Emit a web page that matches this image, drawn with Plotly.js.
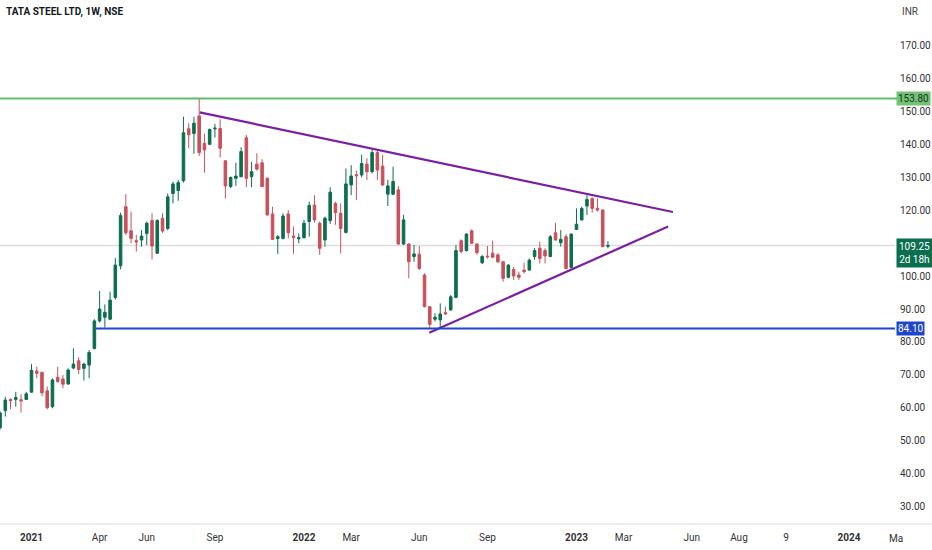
<!DOCTYPE html>
<html>
<head>
<meta charset="utf-8">
<script src="https://cdn.plot.ly/plotly-3.0.1.min.js"></script>
<style>
html,body{margin:0;padding:0;background:#fff;}
#chart{width:932px;height:550px;}
</style>
</head>
<body>
<div id="chart"></div>
<script>
// Weekly candles, week index 0 = first week of Jan 2021
const firstWeek = -6;
const open  = [54.0,59.2,62.6,62.6,62.5,62.6,64.8,71.2,70.8,65.2,60.4,69.3,68.8,67.3,72.1,74.3,72.0,73.0,78.0,86.4,87.5,86.9,93.5,103.1,121.0,113.7,110.7,110.9,112.9,116.8,106.9,117.5,114.4,125.0,125.9,128.9,144.6,143.2,148.5,140.2,139.9,144.6,144.7,134.9,127.1,129.6,130.1,141.9,130.1,133.9,134.3,129.6,118.8,111.4,111.4,118.8,112.1,111.3,111.6,116.5,121.5,116.0,110.9,116.8,122.0,119.0,113.2,127.6,130.7,130.6,133.9,131.6,137.4,133.3,124.8,124.8,126.1,109.7,109.7,105.9,106.6,100.3,90.7,86.9,86.7,88.9,89.7,93.5,110.7,107.7,113.7,109.7,104.0,106.0,106.9,106.4,104.3,99.6,102.0,100.3,101.8,101.8,105.9,108.4,107.7,105.9,113.1,110.1,111.9,102.6,114.1,117.0,121.2,123.5,120.5,120.0,109.0];
const high  = [59.0,63.4,62.9,64.9,64.2,64.9,73.3,72.5,71.0,66.5,69.0,72.5,70.0,72.0,78.1,75.4,73.7,77.6,86.9,95.5,91.4,95.3,105.4,119.2,124.8,119.5,112.4,113.9,116.5,119.0,117.2,119.0,125.0,128.6,129.1,148.3,146.3,148.3,153.8,143.2,144.7,146.1,147.5,135.1,130.1,134.3,139.0,142.7,134.6,137.2,135.4,129.9,121.0,112.4,119.0,120.0,115.0,112.9,117.0,122.5,124.5,116.5,118.0,126.9,122.5,122.0,132.6,133.6,131.9,136.7,135.7,138.4,138.2,136.7,129.1,133.1,127.3,118.5,109.9,109.4,109.1,100.8,90.9,88.7,91.7,90.7,94.2,109.4,111.1,112.9,114.1,109.9,106.4,109.1,110.7,106.9,104.6,103.6,102.8,101.3,104.0,105.3,108.4,110.4,108.4,112.4,116.1,113.9,112.7,112.9,120.5,121.0,124.5,123.8,123.5,120.2,110.6];
const low   = [53.5,57.4,59.6,60.4,58.6,62.4,64.6,69.0,63.6,59.6,59.9,67.7,66.0,67.0,71.7,70.3,68.3,69.0,77.8,85.9,84.4,86.7,92.9,102.0,112.4,109.9,107.4,108.9,109.4,105.0,106.7,113.1,113.9,122.0,122.8,128.3,138.7,137.0,136.4,131.3,139.7,142.0,135.9,123.5,126.6,127.3,129.9,126.9,126.9,131.9,126.9,118.3,110.9,106.7,111.1,111.4,106.7,109.9,111.4,111.9,116.2,106.4,108.9,115.8,115.5,106.9,112.9,124.5,123.0,129.9,129.1,131.1,129.1,127.3,121.2,124.5,109.4,109.4,99.3,104.3,101.8,90.5,84.3,86.2,84.1,88.2,89.5,93.3,106.9,107.4,109.7,106.4,103.6,105.3,105.4,104.0,98.3,99.3,98.8,98.8,100.8,101.6,104.9,103.8,103.8,105.7,110.7,108.9,102.0,102.3,114.0,116.8,118.5,119.2,119.5,108.7,108.4];
const close = [58.5,62.4,62.2,63.2,62.2,64.3,71.4,70.5,64.6,60.1,68.5,68.0,67.2,71.5,73.3,71.7,73.3,76.8,86.4,90.0,89.0,92.7,103.3,118.3,113.1,111.4,110.3,112.1,116.0,109.1,116.8,113.6,124.0,127.9,128.3,143.4,142.8,146.3,137.4,138.2,144.4,144.8,138.7,127.3,129.9,130.3,137.7,129.6,131.6,132.4,127.1,118.5,111.1,111.9,118.2,113.1,111.7,111.6,116.0,121.4,117.0,108.4,117.5,125.4,119.2,114.4,127.9,130.3,130.4,134.1,131.6,137.4,132.1,127.6,127.3,128.6,109.7,117.0,104.3,106.7,102.3,90.7,85.3,87.5,88.5,88.5,93.7,107.7,107.4,112.7,109.9,107.1,105.9,105.8,105.7,104.3,99.3,103.3,100.0,99.6,101.3,104.8,107.7,105.3,106.1,111.9,110.9,111.1,102.3,112.7,115.7,120.5,123.2,120.5,120.0,108.9,109.25];

// Axis labels
const timeTickWeeks  = [0,13,22,35,52,61,74,87,104,113,126,135,144,156];
const timeTickLabels = ['<b>2021</b>','Apr','Jun','Sep','<b>2022</b>','Mar','Jun','Sep','<b>2023</b>','Mar','Jun','Aug','9','<b>2024</b>'];
const cutTickWeek = 165, cutTickLabel = 'Ma';
const priceTicks = [30,40,50,60,70,80,90,100,110,120,130,140,150,160,170].filter(v => v !== 110);

// Levels and trendlines
const resistanceLevel = 153.80;
const supportLevel = 84.10;
const supportStartWeek = 12.3;
const lastPrice = 109.25;
const upperTrendWeeks = [32.1, 122.4];
const upperTrendPrices = [149.6, 119.4];
const lowerTrendWeeks = [75.9, 121.5];
const lowerTrendPrices = [82.8, 115.0];

const xRange = [-6.01, 164.78];
const yRange = [25.45, 183.64];

const weeks = open.map((_, k) => firstWeek + k);

const GREEN = '#0b6e4f', RED = '#c9505b', PURPLE = '#7b1fa2', BLUE = '#1f45cc', LGREEN = '#66bb6a';
const FONT = '"Liberation Sans Narrow", "Arial Narrow", Roboto, "Liberation Sans", sans-serif';

const traces = [
  {
    type: 'candlestick',
    x: weeks, open: open, high: high, low: low, close: close,
    increasing: {line: {color: GREEN, width: 1}, fillcolor: GREEN},
    decreasing: {line: {color: RED, width: 1}, fillcolor: RED},
    whiskerwidth: 0,
    hoverinfo: 'skip',
    showlegend: false
  },
  {
    type: 'scatter', mode: 'lines', x: upperTrendWeeks, y: upperTrendPrices,
    line: {color: PURPLE, width: 2.2}, hoverinfo: 'skip', showlegend: false
  },
  {
    type: 'scatter', mode: 'lines', x: lowerTrendWeeks, y: lowerTrendPrices,
    line: {color: PURPLE, width: 2.2}, hoverinfo: 'skip', showlegend: false
  }
];

const W = 932, H = 550, mr = 37, mb = 28;
const plotW = W - mr, plotH = H - mb;

const layout = {
  width: W, height: H,
  margin: {l: 0, r: mr, t: 0, b: mb, pad: 0},
  paper_bgcolor: '#ffffff', plot_bgcolor: '#ffffff',
  showlegend: false,
  font: {family: FONT, size: 10, color: '#333'},
  xaxis: {
    range: xRange, type: 'linear',
    rangeslider: {visible: false},
    showgrid: false, zeroline: false, showline: false,
    tickmode: 'array', tickvals: timeTickWeeks, ticktext: timeTickLabels,
    ticks: '', tickfont: {family: FONT, size: 10, color: '#333'},
    ticklabelstandoff: 8,
    fixedrange: true
  },
  yaxis: {
    range: yRange, side: 'right',
    showgrid: false, zeroline: false, showline: false,
    tickmode: 'array', tickvals: priceTicks, ticktext: priceTicks.map(v => v.toFixed(2)),
    ticks: '', tickfont: {family: FONT, size: 10, color: '#333'},
    ticklabelstandoff: 4,
    fixedrange: true
  },
  shapes: [
    {type: 'line', xref: 'paper', yref: 'y', x0: 0, x1: 1, y0: lastPrice, y1: lastPrice,
     line: {color: '#dcdcdc', width: 1.5}, layer: 'below'},
    {type: 'line', xref: 'paper', yref: 'y', x0: 0, x1: 1.003, y0: resistanceLevel, y1: resistanceLevel,
     line: {color: LGREEN, width: 2}},
    {type: 'line', xref: 'x', yref: 'y', x0: supportStartWeek, x1: xRange[1] + 0.2, y0: supportLevel, y1: supportLevel,
     line: {color: BLUE, width: 2}},
    {type: 'line', xref: 'paper', yref: 'paper', x0: 0, x1: W / plotW, y0: -0.004, y1: -0.004,
     line: {color: '#e6e8ee', width: 1.5}}
  ],
  annotations: [
    {xref: 'paper', yref: 'paper', x: 4 / plotW, y: 1 - 12 / plotH, xanchor: 'left', yanchor: 'middle',
     text: '<b>TATA STEEL LTD, 1W, NSE</b>', showarrow: false, font: {family: FONT, size: 10, color: '#131722'}},
    {xref: 'paper', yref: 'paper', x: 910 / plotW, y: 1 - 12 / plotH, xanchor: 'center', yanchor: 'middle',
     text: 'INR', showarrow: false, font: {family: FONT, size: 10, color: '#444'}},
    {xref: 'paper', yref: 'y', x: 1, y: resistanceLevel, xanchor: 'left', yanchor: 'middle', xshift: 1,
     text: resistanceLevel.toFixed(2), showarrow: false, bgcolor: '#74c276', borderpad: 1,
     font: {family: FONT, size: 10, color: '#14361a'}},
    {xref: 'paper', yref: 'y', x: 1, y: lastPrice, xanchor: 'left', yanchor: 'top', xshift: 1, yshift: 7,
     text: lastPrice.toFixed(2) + '<br>2d 18h', showarrow: false, bgcolor: GREEN, borderpad: 2,
     font: {family: FONT, size: 10, color: '#ffffff'}},
    {xref: 'paper', yref: 'y', x: 1, y: supportLevel, xanchor: 'left', yanchor: 'middle', xshift: 1,
     text: supportLevel.toFixed(2), showarrow: false, bgcolor: BLUE, borderpad: 1,
     font: {family: FONT, size: 10, color: '#ffffff'}},
    {xref: 'paper', yref: 'paper', x: (cutTickWeek - xRange[0]) / (xRange[1] - xRange[0]), y: 0, yshift: -16,
     xanchor: 'center', yanchor: 'middle', text: cutTickLabel, showarrow: false,
     font: {family: FONT, size: 10, color: '#333'}}
  ]
};

Plotly.newPlot('chart', traces, layout, {staticPlot: true, displayModeBar: false});
</script>
</body>
</html>
